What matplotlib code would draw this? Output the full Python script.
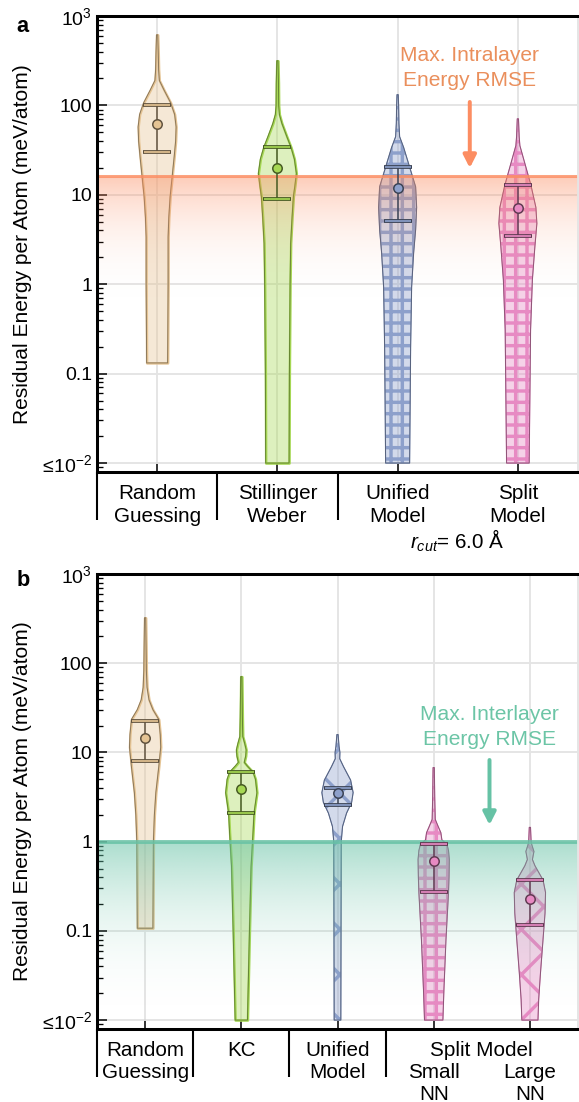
import numpy as np
import matplotlib
matplotlib.use('Agg')
import matplotlib.pyplot as plt
from matplotlib.colors import to_rgba
from matplotlib.ticker import NullFormatter

DPI = 136
PT = 72 / DPI  # points per pixel

plt.rcParams['font.family'] = ['Liberation Sans', 'DejaVu Sans']
plt.rcParams['mathtext.fontset'] = 'custom'
plt.rcParams['mathtext.rm'] = 'Liberation Sans'
plt.rcParams['mathtext.it'] = 'Liberation Sans:italic'
plt.rcParams['mathtext.bf'] = 'Liberation Sans:bold'
plt.rcParams['hatch.linewidth'] = 1.8

TAN, GREEN, BLUE, PINK = '#E5C494', '#A6D854', '#8DA0CB', '#E78AC3'
ORANGE, TEAL = '#FC8D62', '#66C2A5'

# ---------------- panel a : intralayer ----------------
labels_a = [['Random', 'Guessing'], ['Stillinger', 'Weber'], ['Unified', 'Model'], ['Split', 'Model']]
colors_a = [TAN, GREEN, BLUE, PINK]
hatch_a = [None, None, '++', '++']
mean_a = [62, 20, 12, 7.1]
upper_a = [102, 34, 20.4, 13]
lower_a = [30, 9, 5.1, 3.5]
limit_a = 16.2

# violin outlines: log10(meV/atom) and relative half width
rand_a_lv = [-0.88, 0.0, 0.53, 0.75, 0.98, 1.2, 1.42, 1.6, 1.76, 1.9, 2.03, 2.17, 2.28, 2.4, 2.6, 2.79]
rand_a_hw = [10.5, 11, 11, 11.7, 13, 15, 17, 18.5, 19, 17.5, 13.5, 7, 2.2, 1.5, 1.1, 0.6]
sw_a_lv = [-2.0, -1.0, 0.0, 0.46, 0.75, 0.98, 1.1, 1.24, 1.4, 1.53, 1.65, 1.8, 1.9, 2.0, 2.25, 2.5]
sw_a_hw = [11.7, 12, 12.7, 13.3, 14.7, 16, 17.5, 19, 17, 13.7, 9.5, 4.5, 2, 1.3, 1.1, 0.6]
uni_a_lv = [-2.0, -0.7, -0.03, 0.35, 0.61, 0.86, 1.09, 1.31, 1.53, 1.65, 1.8, 2.0, 2.12]
uni_a_hw = [12, 13, 14, 16, 18, 19, 18, 12, 6, 2, 1.3, 1.0, 0.6]
split_a_lv = [-2.0, -0.51, 0.05, 0.42, 0.68, 0.86, 1.11, 1.31, 1.45, 1.55, 1.65, 1.85]
split_a_hw = [11.3, 12.7, 14.5, 17, 19, 18, 13, 8, 4.5, 2, 1.3, 0.6]

# ---------------- panel b : interlayer ----------------
colors_b = [TAN, GREEN, BLUE, PINK, PINK]
hatch_b = [None, None, 'x', '++', 'x']
mean_b = [14.5, 3.9, 3.5, 0.6, 0.23]
upper_b = [22.4, 6.0, 4.0, 0.93, 0.37]
lower_b = [8.1, 2.1, 2.6, 0.27, 0.115]
limit_b = 1.0

rand_b_lv = [-0.97, 0.0, 0.3, 0.55, 0.84, 1.06, 1.2, 1.37, 1.48, 1.59, 1.73, 1.92, 2.2, 2.51]
rand_b_hw = [8, 8.5, 9.5, 11, 14, 16, 15.5, 14, 8, 4, 2, 1.3, 1.0, 0.6]
kc_b_lv = [-2.0, -1.02, -0.28, 0.1, 0.32, 0.55, 0.7, 0.78, 0.85, 0.89, 0.96, 1.03, 1.1, 1.18, 1.4, 1.85]
kc_b_hw = [6.3, 8.3, 10, 12, 13, 16, 14.5, 12, 6, 3, 4.5, 5, 3.5, 1.5, 1.1, 0.6]
uni_b_lv = [-2.0, 0.0, 0.17, 0.32, 0.44, 0.55, 0.69, 0.84, 0.93, 1.0, 1.07, 1.2]
uni_b_hw = [3.3, 3.7, 5, 9, 14, 15.5, 13, 6, 2.2, 2.4, 1.5, 0.6]
small_b_lv = [-2.0, -1.66, -1.1, -0.57, -0.4, -0.2, -0.1, -0.03, 0.02, 0.1, 0.18, 0.25, 0.5, 0.83]
small_b_hw = [9, 10, 12, 14.5, 15, 15.3, 14.5, 13, 8, 7, 4, 1.5, 1.0, 0.6]
large_b_lv = [-2.0, -1.77, -1.47, -1.1, -0.8, -0.57, -0.43, -0.35, -0.27, -0.2, -0.11, -0.04, 0.0, 0.16]
large_b_hw = [8, 8.7, 10.5, 13, 15, 15.5, 13, 9, 5, 2.5, 4, 2, 1.2, 0.6]

YLO, YHI = -2.1, 3.0


def shade(c, k):
    r, g, b, _ = to_rgba(c)
    return (r * k, g * k, b * k)


def draw_violins(ax, profiles, colors, hatches, mean, upper, lower, width):
    pos = np.arange(len(profiles))
    stats = []
    for (lv, hw), m in zip(profiles, mean):
        y = 10.0 ** np.array(lv)
        stats.append(dict(coords=y, vals=np.array(hw), mean=m, median=m, min=y.min(), max=y.max()))
    body = ax.violin(stats, positions=pos, widths=width, showextrema=False)
    edge = ax.violin(stats, positions=pos, widths=width, showextrema=False)
    for i, c in enumerate(colors):
        b = body['bodies'][i]
        b.set_alpha(None)
        b.set_facecolor(to_rgba(c, 0.38))
        b.set_edgecolor(c)
        b.set_zorder(1)
        if hatches[i]:
            b.set_hatch(hatches[i])
            b.set_linewidth(0.6)
        else:
            b.set_linewidth(1.3)
        e = edge['bodies'][i]
        e.set_alpha(None)
        e.set_facecolor('none')
        e.set_edgecolor(shade(c, 0.6))
        e.set_linewidth(0.5)
        e.set_zorder(1.1)

        dark = shade(c, 0.42)
        yerr = [[mean[i] - lower[i]], [upper[i] - mean[i]]]
        ax.errorbar(pos[i], mean[i], yerr=yerr, fmt='none', ecolor=dark,
                    elinewidth=0.8, capsize=7.4, capthick=2.0, zorder=3)
        ax.plot([pos[i], pos[i]], [lower[i], upper[i]], ls='none', marker='_',
                ms=13.6, mew=0.9, color=c, zorder=3.1)
        ax.plot(pos[i], mean[i], 'o', ms=5, mfc=c, mec=dark, mew=0.8, zorder=4)


def draw_limit(ax, level, color, lo, a0, p, lw):
    ax.axhline(level, color=color, lw=lw, alpha=0.8, zorder=1.6)
    f = np.linspace(0, 1, 600)
    lv = YLO + (YHI - YLO) * f
    top = np.log10(level)
    t = np.clip((lv - lo) / (top - lo), 0, 1)
    alpha = np.where(lv <= top, a0 * t ** p, 0.0)
    img = np.zeros((len(f), 2, 4))
    img[..., :3] = to_rgba(color)[:3]
    img[..., 3] = alpha[:, None]
    ax.imshow(img, extent=[0, 1, 0, 1], transform=ax.transAxes, origin='lower',
              aspect='auto', interpolation='bilinear', zorder=1.5)


def style_axes(ax, n):
    ax.set_yscale('log')
    ax.set_yticks([1e-2, 1e-1, 1, 10, 100, 1000])
    ax.set_yticklabels([r'$\leq\!10^{-2}$', '0.1', '1', '10', '100', r'$10^3$'])
    ax.yaxis.set_minor_formatter(NullFormatter())
    ax.set_xticks(np.arange(n))
    ax.set_xticklabels([])
    ax.tick_params(axis='both', which='major', direction='in', length=5.3, width=0.8,
                   labelsize=10.3, pad=2.5)
    ax.tick_params(axis='y', which='minor', direction='in', length=3.2, width=0.7)
    ax.tick_params(axis='x', which='minor', bottom=False)
    ax.grid(True, which='major', color='#e4e4e4', lw=1.0)
    ax.set_axisbelow(True)
    for s in ['top', 'bottom', 'left']:
        ax.spines[s].set_linewidth(1.6)
    ax.spines['right'].set_color('#e4e4e4')
    ax.spines['right'].set_linewidth(1.0)
    ax.set_ylabel('Residual Energy per Atom (meV/atom)', fontsize=11.1)
    ax.yaxis.set_label_coords(-0.135, 0.5)


def put_label(ax, x, text, below_px, size=10.9):
    ax.annotate(text, xy=(x, 0), xycoords=('data', 'axes fraction'),
                xytext=(0, -below_px * PT), textcoords='offset points',
                ha='center', va='baseline', fontsize=size, annotation_clip=False)


def separators(ax, xs, axh_px):
    ax.vlines(xs, -48 / axh_px, 0, transform=ax.get_xaxis_transform(),
              clip_on=False, color='k', lw=1.1)


W, H = 579, 1102
fig = plt.figure(figsize=(W / DPI, H / DPI), dpi=DPI)
ax_a = fig.add_axes([97 / W, 1 - 472 / H, 481 / W, 456 / H])
ax_b = fig.add_axes([97 / W, 1 - 1029 / H, 481 / W, 455 / H])

# panel a
draw_limit(ax_a, limit_a, ORANGE, -0.5, 0.45, 3.0, 1.6)
style_axes(ax_a, 4)
draw_violins(ax_a, [(rand_a_lv, rand_a_hw), (sw_a_lv, sw_a_hw), (uni_a_lv, uni_a_hw),
                    (split_a_lv, split_a_hw)],
             colors_a, hatch_a, mean_a, upper_a, lower_a, 0.316)
for i, lab in enumerate(labels_a):
    put_label(ax_a, i, lab[0], 27)
    put_label(ax_a, i, lab[1], 50)
put_label(ax_a, 2.5, r'$r_{cut}$= 6.0 Å', 77)
separators(ax_a, [-0.5, 0.5, 1.5], 456)
tr = ax_a.get_xaxis_transform()
ax_a.text(2.60, 0.9013, 'Max. Intralayer', transform=tr, ha='center', va='baseline',
          color='#EA8F5C', fontsize=11.1)
ax_a.text(2.60, 0.8465, 'Energy RMSE', transform=tr, ha='center', va='baseline',
          color='#EA8F5C', fontsize=11.1)
ax_a.annotate('', xy=(2.60, 0.6667), xytext=(2.60, 0.8114), xycoords=tr,
              arrowprops=dict(arrowstyle='-|>,head_length=5.5,head_width=2.8',
                              mutation_scale=1, lw=2.1, color=ORANGE, shrinkA=0, shrinkB=0))
ax_a.set_xlim(-0.5, 3.5)
ax_a.set_ylim(10 ** YLO, 10 ** YHI)

# panel b
draw_limit(ax_b, limit_b, TEAL, -2.1, 0.55, 2.4, 2.1)
style_axes(ax_b, 5)
draw_violins(ax_b, [(rand_b_lv, rand_b_hw), (kc_b_lv, kc_b_hw), (uni_b_lv, uni_b_hw),
                    (small_b_lv, small_b_hw), (large_b_lv, large_b_hw)],
             colors_b, hatch_b, mean_b, upper_b, lower_b, 0.325)
put_label(ax_b, 0, 'Random', 26.7)
put_label(ax_b, 0, 'Guessing', 49)
put_label(ax_b, 1, 'KC', 26.7)
put_label(ax_b, 2, 'Unified', 26.7)
put_label(ax_b, 2, 'Model', 49)
put_label(ax_b, 3.5, 'Split Model', 26.7)
put_label(ax_b, 3, 'Small', 49)
put_label(ax_b, 3, 'NN', 71)
put_label(ax_b, 4, 'Large', 49)
put_label(ax_b, 4, 'NN', 71)
separators(ax_b, [-0.5, 0.5, 1.5, 2.5], 455)
tr = ax_b.get_xaxis_transform()
ax_b.text(3.58, 0.679, 'Max. Interlayer', transform=tr, ha='center', va='baseline',
          color='#6CC5A6', fontsize=11.1)
ax_b.text(3.58, 0.6242, 'Energy RMSE', transform=tr, ha='center', va='baseline',
          color='#6CC5A6', fontsize=11.1)
ax_b.annotate('', xy=(3.58, 0.4484), xytext=(3.58, 0.5912), xycoords=tr,
              arrowprops=dict(arrowstyle='-|>,head_length=5.5,head_width=2.8',
                              mutation_scale=1, lw=2.1, color=TEAL, shrinkA=0, shrinkB=0))
ax_b.set_xlim(-0.5, 4.5)
ax_b.set_ylim(10 ** YLO, 10 ** YHI)

fig.text(22 / W, 1 - 27 / H, 'a', fontsize=11.5, fontweight='bold', ha='center', va='center')
fig.text(23 / W, 1 - 580 / H, 'b', fontsize=11.5, fontweight='bold', ha='center', va='center')

fig.savefig('out.png', dpi=DPI)
